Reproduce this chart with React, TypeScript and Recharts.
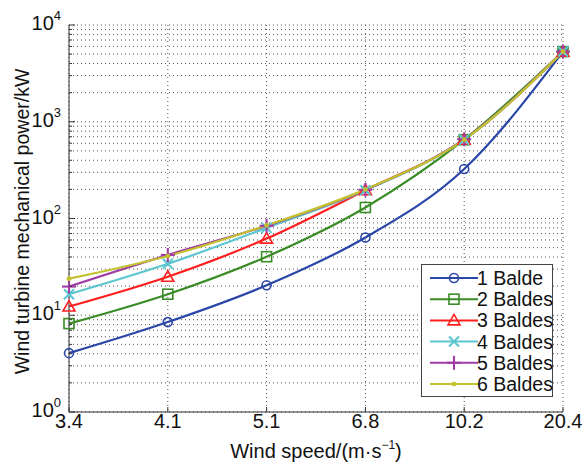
import { LineChart, Line, XAxis, YAxis, CartesianGrid } from 'recharts';

const speeds = ['3.4', '4.1', '5.1', '6.8', '10.2', '20.4'];
const blade1 = [4.06, 8.5, 20.4, 63.7, 325, 5310];
const blade2 = [8.2, 16.5, 40.3, 130, 652, 5310];
const blade3 = [12.3, 25, 62, 196, 652, 5310];
const blade4 = [16.5, 34, 80, 196, 652, 5310];
const blade5 = [19.8, 42, 84, 198, 660, 5310];
const blade6 = [23.9, 41, 85, 200, 652, 5310];
const yTicks = [1, 2, 3, 4, 5, 6, 7, 8, 9, 10, 20, 30, 40, 50, 60, 70, 80, 90, 100, 200, 300, 400, 500, 600, 700, 800, 900, 1000, 2000, 3000, 4000, 5000, 6000, 7000, 8000, 9000, 10000];

const series = [
  { key: 'b1', name: '1 Balde', color: '#2a46a8', shape: 'circle', values: blade1 },
  { key: 'b2', name: '2 Baldes', color: '#3a8c26', shape: 'square', values: blade2 },
  { key: 'b3', name: '3 Baldes', color: '#ff1e1e', shape: 'triangle', values: blade3 },
  { key: 'b4', name: '4 Baldes', color: '#5cc6d0', shape: 'x', values: blade4 },
  { key: 'b5', name: '5 Baldes', color: '#a03ca6', shape: 'plus', values: blade5 },
  { key: 'b6', name: '6 Baldes', color: '#c2c22e', shape: 'dot', values: blade6 },
];

const data = speeds.map((s, i) => {
  const row: any = { speed: s };
  series.forEach((se) => (row[se.key] = se.values[i]));
  return row;
});

const FONT = 'Liberation Sans, Arial, sans-serif';

function Marker({ shape, color, cx, cy }: any) {
  if (cx == null || cy == null) return null;
  const sw = 1.6;
  switch (shape) {
    case 'circle':
      return <circle cx={cx} cy={cy} r={4.5} fill="none" stroke={color} strokeWidth={sw} />;
    case 'square':
      return <rect x={cx - 5} y={cy - 5} width={10} height={10} fill="none" stroke={color} strokeWidth={sw} />;
    case 'triangle':
      return <polygon points={`${cx},${cy - 6} ${cx + 6},${cy + 4.5} ${cx - 6},${cy + 4.5}`} fill="none" stroke={color} strokeWidth={sw} />;
    case 'x':
      return (
        <g stroke={color} strokeWidth={sw + 0.5}>
          <line x1={cx - 5} y1={cy - 5} x2={cx + 5} y2={cy + 5} />
          <line x1={cx - 5} y1={cy + 5} x2={cx + 5} y2={cy - 5} />
        </g>
      );
    case 'plus':
      return (
        <g stroke={color} strokeWidth={sw + 0.5}>
          <line x1={cx - 7} y1={cy} x2={cx + 7} y2={cy} />
          <line x1={cx} y1={cy - 7} x2={cx} y2={cy + 7} />
        </g>
      );
    default:
      return <circle cx={cx} cy={cy} r={2} fill={color} stroke={color} />;
  }
}

function LeftTick({ x, y, payload }: any) {
  const v = payload.value;
  const e = Math.round(Math.log10(v));
  const major = Math.abs(v - Math.pow(10, e)) < 1e-6;
  return (
    <g>
      <line x1={x} x2={x + (major ? 6 : 3)} y1={y} y2={y} stroke="#333" />
      {major && (
        <text x={x - 8} y={y + 5} textAnchor="end" fontSize={20} fontFamily={FONT} fill="#111">
          10<tspan dy={-10} fontSize={13}>{e}</tspan>
        </text>
      )}
    </g>
  );
}

function RightTick({ x, y, payload }: any) {
  const v = payload.value;
  const e = Math.round(Math.log10(v));
  const major = Math.abs(v - Math.pow(10, e)) < 1e-6;
  return <line x1={x} x2={x - (major ? 6 : 3)} y1={y} y2={y} stroke="#333" />;
}

function BottomTick({ x, y, payload }: any) {
  return (
    <g>
      <line x1={x} x2={x} y1={y} y2={y - 5} stroke="#333" />
      <text x={x} y={y + 16} textAnchor="middle" fontSize={20} fontFamily={FONT} fill="#111">
        {payload.value}
      </text>
    </g>
  );
}

function TopTick({ x, y }: any) {
  return <line x1={x} x2={x} y1={y} y2={y + 5} stroke="#333" />;
}

function Legend() {
  return (
    <div
      style={{
        position: 'absolute',
        left: 421,
        top: 264,
        width: 132,
        height: 133,
        border: '1px solid #444',
        background: '#fff',
        boxSizing: 'border-box',
      }}
    >
      <svg width={132} height={133} style={{ display: 'block' }}>
        {series.map((s, i) => {
          const cy = 13 + i * 21.2;
          return (
            <g key={s.key}>
              <line x1={8} x2={56} y1={cy} y2={cy} stroke={s.color} strokeWidth={2} />
              <Marker shape={s.shape} color={s.color} cx={32} cy={cy} />
              <text x={55} y={cy + 7} fontSize={19.5} fontFamily={FONT} fill="#111">
                {s.name}
              </text>
            </g>
          );
        })}
      </svg>
    </div>
  );
}

export default function App() {
  return (
    <div style={{ position: 'fixed', left: 0, top: 0, width: 582, height: 463, background: '#fff' }}>
      <LineChart width={582} height={463} data={data} margin={{ top: 25, right: 19, bottom: 0, left: 9 }}>
        <CartesianGrid stroke="#555" strokeDasharray="1 3" />
        <XAxis
          dataKey="speed"
          xAxisId={0}
          interval={0}
          padding={{ left: 0, right: 0 }}
          height={51}
          tickSize={0}
          tickMargin={0}
          tick={<BottomTick />}
          axisLine={{ stroke: '#333' }}
          tickLine={false}
          label={{
            content: ({ viewBox }: any) => (
              <text
                x={viewBox.x + viewBox.width / 2}
                y={viewBox.y + 46}
                textAnchor="middle"
                fontSize={20}
                fontFamily={FONT}
                fill="#111"
              >
                Wind speed/(m·s<tspan dy={-9} fontSize={12}>−1</tspan>
                <tspan dy={9}>)</tspan>
              </text>
            ),
          }}
        />
        <XAxis
          dataKey="speed"
          xAxisId="top"
          orientation="top"
          interval={0}
          height={0}
          tickSize={0}
          tickMargin={0}
          tick={<TopTick />}
          tickLine={false}
          axisLine={{ stroke: '#333' }}
        />
        <YAxis
          yAxisId={0}
          scale="log"
          domain={[1, 10000]}
          ticks={yTicks}
          interval={0}
          allowDataOverflow
          width={60}
          tickSize={0}
          tickMargin={0}
          tick={<LeftTick />}
          tickLine={false}
          axisLine={{ stroke: '#333' }}
          label={{
            content: ({ viewBox }: any) => {
              const cx = 29;
              const cy = viewBox.y + viewBox.height / 2 + 3;
              return (
                <text
                  x={cx}
                  y={cy}
                  transform={`rotate(-90 ${cx} ${cy})`}
                  textAnchor="middle"
                  fontSize={19.5}
                  fontFamily={FONT}
                  fill="#111"
                >
                  Wind turbine mechanical power/kW
                </text>
              );
            },
          }}
        />
        <YAxis
          yAxisId="right"
          orientation="right"
          scale="log"
          domain={[1, 10000]}
          ticks={yTicks}
          interval={0}
          allowDataOverflow
          width={0}
          tickSize={0}
          tickMargin={0}
          tick={<RightTick />}
          tickLine={false}
          axisLine={{ stroke: '#333' }}
        />
        {series.map((s) => (
          <Line
            key={s.key}
            type="monotone"
            dataKey={s.key}
            name={s.name}
            stroke={s.color}
            strokeWidth={2.2}
            isAnimationActive={false}
            dot={(p: any) => <Marker key={`${s.key}-${p.index}`} shape={s.shape} color={s.color} cx={p.cx} cy={p.cy} />}
            activeDot={false}
          />
        ))}
      </LineChart>
      <Legend />
    </div>
  );
}
